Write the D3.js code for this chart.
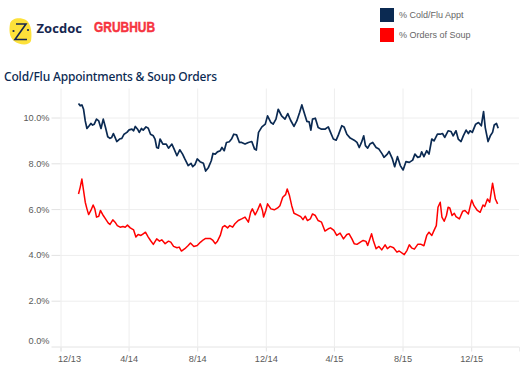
<!DOCTYPE html>
<html>
<head>
<meta charset="utf-8">
<script src="https://cdnjs.cloudflare.com/ajax/libs/d3/7.8.5/d3.min.js"></script>
<style>
  body { margin: 0; background: #fff; }
  .tick text { font-family: "Liberation Sans", Arial, sans-serif; font-size: 9.2px; fill: #5a5a5a; }
</style>
</head>
<body>
<script>
var w = 524;
var h = 384;

var seriesNames = ["% Cold/Flu Appt", "% Orders of Soup"];
var seriesColors = ["#0b2a52", "#ff0000"];
var yTicks = [0, 2, 4, 6, 8, 10];
var xTicks = ["2013-12-01", "2014-04-01", "2014-08-01", "2014-12-01", "2015-04-01", "2015-08-01", "2015-12-01"];
var startDate = Date.UTC(2013, 11, 1);  // days arrays count from here

// Cold/flu appointments
var apptDays = [32,35,38,41,44,47,51,54,57,60,64,68,72,76,80,84,88,91,94,97,100,105,109,113,118,122,127,130,133,137,140,144,147,152,156,160,165,168,171,174,177,182,188,192,198,202,207,212,217,221,227,232,235,239,243,248,254,258,263,268,271,275,279,284,287,291,295,300,304,308,313,318,322,328,334,340,345,348,352,358,364,368,374,378,383,387,393,399,404,409,415,420,425,429,434,438,442,445,448,453,458,464,470,476,480,485,490,494,500,504,509,515,522,527,531,535,539,542,546,550,555,561,566,572,575,581,584,590,594,599,604,609,614,620,626,630,635,639,642,646,651,655,660,664,670,675,679,683,689,694,698,703,707,712,716,721,725,728,732,738,743,748,752,755,760,764,768,771,775,778];
var apptPct = [10.61,10.51,10.55,10.36,9.85,9.52,9.64,9.74,9.67,9.71,9.93,9.85,9.52,9.93,9.56,9.16,9.09,9.13,9.30,9.13,8.95,9.06,9.09,9.27,9.35,9.46,9.49,9.42,9.61,9.49,9.35,9.52,9.45,9.59,9.53,9.27,9.20,9.06,8.69,8.66,9.06,8.84,8.84,8.66,8.84,8.62,8.33,8.59,8.40,8.19,7.90,8.00,7.85,7.94,8.19,8.07,8.00,7.66,7.82,8.11,8.43,8.40,8.50,8.55,8.69,8.55,8.91,8.94,9.06,9.27,9.24,8.91,8.91,8.84,8.91,8.95,8.62,8.58,9.35,9.59,9.71,10.07,9.78,9.71,9.93,10.36,10.07,9.93,10.17,9.88,9.61,9.85,10.22,10.55,10.14,9.83,9.81,9.45,9.93,9.97,9.56,9.49,9.49,9.59,9.35,9.06,9.01,9.24,9.64,9.59,9.27,9.10,9.01,8.91,8.69,8.91,9.20,8.77,8.66,8.84,8.91,8.69,8.62,8.40,8.26,8.40,8.52,8.19,7.85,8.29,7.90,7.71,8.07,8.04,8.14,8.40,8.26,8.29,8.50,8.29,8.55,8.40,9.06,8.98,9.27,9.27,9.30,9.13,9.42,9.39,9.20,9.42,9.06,8.95,9.20,9.45,9.30,9.42,9.35,9.71,9.78,9.64,10.26,9.56,8.95,9.20,9.35,9.67,9.74,9.53];

// Soup orders
var soupDays = [32,35,38,41,44,47,50,54,58,61,64,68,71,76,80,85,88,93,97,101,106,111,115,119,124,130,134,138,143,147,151,156,160,165,171,176,180,186,192,196,201,207,211,215,221,227,231,237,243,249,254,258,266,271,275,279,284,288,292,297,301,306,310,316,322,328,334,338,341,346,350,355,359,361,365,368,374,380,386,390,395,400,403,407,411,415,421,427,431,435,439,444,448,453,458,464,470,476,480,486,491,497,503,509,513,518,522,527,533,538,543,546,553,556,561,566,571,577,581,586,592,598,602,611,616,620,624,629,635,641,646,651,655,660,664,668,671,675,678,682,686,689,692,696,700,703,709,715,719,725,731,735,741,746,751,754,759,763,768,773,777];
var soupPct = [6.66,6.95,7.31,6.81,6.30,6.01,5.76,5.94,6.18,6.01,5.65,5.69,5.94,5.72,5.57,5.39,5.33,5.53,5.43,5.28,5.21,5.24,5.21,5.30,5.18,5.09,4.78,4.89,4.85,4.92,4.99,4.78,4.63,4.46,4.70,4.60,4.66,4.49,4.60,4.56,4.37,4.31,4.34,4.17,4.27,4.41,4.52,4.37,4.41,4.56,4.66,4.72,4.72,4.63,4.49,4.60,4.85,5.21,5.28,5.18,5.28,5.21,5.36,5.50,5.57,5.65,5.43,5.86,6.01,5.75,5.94,6.23,5.94,5.65,5.94,6.23,6.01,5.97,6.05,6.15,6.52,6.63,6.88,6.59,6.15,5.82,5.75,5.67,5.54,5.69,5.50,5.57,5.79,5.72,5.50,5.43,5.04,5.14,5.18,5.07,4.85,4.95,4.70,4.89,4.92,4.70,4.49,4.46,4.56,4.63,4.59,4.41,4.92,4.63,4.27,4.37,4.22,4.44,4.27,4.37,4.31,4.12,4.17,4.01,4.20,4.44,4.31,4.25,4.46,4.46,4.40,4.85,4.99,4.85,5.07,5.28,6.08,6.30,5.65,5.47,5.72,6.08,6.05,5.72,5.82,5.67,5.57,5.91,5.94,5.79,6.40,6.15,5.94,5.86,6.18,6.11,6.44,6.30,7.13,6.44,6.23];

function toDate(day) {
    return new Date(startDate + day * 86400000);
}

var svg = d3.select("body")
            .append("svg")
            .attr("width", w)
            .attr("height", h)
            .style("display", "block");

var margin = {top: 88.5, right: 5, bottom: 37.5, left: 60.5};

var xScale = d3.scaleUtc()
               .domain([toDate(0), toDate(815)])
               .range([margin.left, w - margin.right]);

var yScale = d3.scaleLinear()
               .domain([0, 10])
               .range([h - margin.bottom, 117.5]);

// Grid and ticks come from the axes themselves
var xAxis = d3.axisBottom(xScale)
              .tickValues(xTicks.map(function(d) { return new Date(d + "T00:00:00Z"); }))
              .tickFormat(d3.utcFormat("%-m/%y"))
              .tickSize(5)
              .tickPadding(3.5);

var yAxis = d3.axisLeft(yScale)
              .tickValues(yTicks)
              .tickFormat(function(d) { return d.toFixed(1) + "%"; })
              .tickSize(9)
              .tickPadding(2);

var gx = svg.append("g")
            .attr("transform", "translate(0," + (h - margin.bottom) + ")")
            .call(xAxis);

var gy = svg.append("g")
            .attr("transform", "translate(" + margin.left + ",0)")
            .call(yAxis);

gx.select(".domain").attr("stroke", "#ececec");
gy.select(".domain").remove();
gx.selectAll(".tick line").attr("stroke", "#e2e2e2");
gy.selectAll(".tick line").attr("stroke", "#e2e2e2");

// Gridlines
gx.selectAll(".tick").append("line")
  .attr("y1", 0)
  .attr("y2", margin.top - (h - margin.bottom))
  .attr("stroke", "#eeeeee");

gy.selectAll(".tick").append("line")
  .attr("x1", 0)
  .attr("x2", w - margin.right - margin.left)
  .attr("stroke", "#eeeeee");

// First labels get nudged in the original
gx.selectAll(".tick text").filter(function(d, i) { return i === 0; }).attr("dx", 8.5);
gy.selectAll(".tick text").filter(function(d) { return d === 0; }).attr("dy", "-0.32em");

var line = d3.line()
             .x(function(d) { return xScale(toDate(d[0])); })
             .y(function(d) { return yScale(d[1]); });

svg.append("path")
   .datum(d3.zip(apptDays, apptPct))
   .attr("d", line)
   .attr("fill", "none")
   .attr("stroke", seriesColors[0])
   .attr("stroke-width", 1.7)
   .attr("stroke-linejoin", "round");

svg.append("path")
   .datum(d3.zip(soupDays, soupPct))
   .attr("d", line)
   .attr("fill", "none")
   .attr("stroke", seriesColors[1])
   .attr("stroke-width", 1.5)
   .attr("stroke-linejoin", "round");

// Legend
var legend = svg.selectAll(".legend")
                .data(seriesNames)
                .enter()
                .append("g")
                .attr("class", "legend")
                .attr("transform", function(d, i) { return "translate(380," + (8 + i * 20) + ")"; });

legend.append("rect")
      .attr("width", 14)
      .attr("height", 14)
      .attr("fill", function(d, i) { return seriesColors[i]; });

legend.append("text")
      .attr("x", 19)
      .attr("y", 10)
      .attr("font-family", "'Liberation Sans', Arial, sans-serif")
      .attr("font-size", 9)
      .attr("fill", "#666")
      .text(function(d) { return d; });

// Title
svg.append("text")
   .attr("x", 4)
   .attr("y", 81)
   .attr("font-family", "'Noto Sans', sans-serif")
   .attr("font-size", 12)
   .attr("font-weight", 500)
   .attr("fill", "#0b2a52")
   .attr("textLength", 213)
   .text("Cold/Flu Appointments & Soup Orders");

// Zocdoc logo
var logo = svg.append("g");

logo.append("path")
    .attr("d", "M10,24 C11,18 20,17 26,20 C32,24 32,36 31,41 C29,46 19,45 14,41 C9,37 9,29 10,24 Z")
    .attr("fill", "#fde13a");

logo.append("path")
    .attr("d", "M16,24 L26,24 L15,39.5 L27,39.5")
    .attr("fill", "none")
    .attr("stroke", "#16264f")
    .attr("stroke-width", 1.6);

logo.selectAll(".logo-dot")
    .data([[13.5, 31], [28, 30]])
    .enter()
    .append("circle")
    .attr("class", "logo-dot")
    .attr("cx", function(d) { return d[0]; })
    .attr("cy", function(d) { return d[1]; })
    .attr("r", 1.1)
    .attr("fill", "#16264f");

logo.append("text")
    .attr("x", 36.5)
    .attr("y", 32.5)
    .attr("font-family", "'Open Sans', sans-serif")
    .attr("font-size", 13)
    .attr("font-weight", 700)
    .attr("fill", "#16264f")
    .attr("textLength", 45.5)
    .text("Zocdoc");

// Grubhub logo
logo.append("text")
    .attr("x", 94)
    .attr("y", 32)
    .attr("font-family", "'Liberation Sans', sans-serif")
    .attr("font-size", 15.5)
    .attr("font-weight", 700)
    .attr("fill", "#f63440")
    .attr("stroke", "#f63440")
    .attr("stroke-width", 0.5)
    .attr("textLength", 61)
    .attr("lengthAdjust", "spacingAndGlyphs")
    .text("GRUBHUB");
</script>
</body>
</html>
